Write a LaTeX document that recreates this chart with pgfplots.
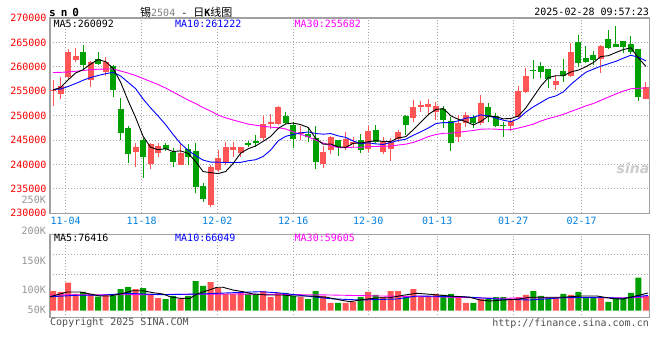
\documentclass[border=0pt]{standalone}
\usepackage{pgfplots}
\pgfplotsset{compat=1.18}
\usepackage{pgfplotstable}
\usepackage{fontspec}
\setmainfont{DejaVu Sans Mono}
\newfontfamily\cjk{Noto Sans CJK SC}
\newfontfamily\sinafont{DejaVu Sans}
\definecolor{cred}{RGB}{255,85,85}
\definecolor{cgreen}{RGB}{0,160,0}
\definecolor{gridc}{RGB}{165,165,165}
\definecolor{framec}{RGB}{160,160,160}
\definecolor{datec}{RGB}{0,128,224}
\definecolor{ma10c}{RGB}{0,0,255}
\definecolor{ma30c}{RGB}{255,0,255}
\definecolor{lblgray}{RGB}{150,150,150}
\definecolor{txtgray}{RGB}{80,80,80}
\newcommand\sz{\fontsize{10bp}{12bp}\selectfont}

% up (red) candles: index open high low close volume(K)
\pgfplotstableread{
i o h l c v
0 255040 257300 251970 255350 84.9
1 254370 257970 253400 256070 80.6
2 257970 263650 257440 263030 120.7
3 261390 263850 260980 262210 72.0
5 257290 261190 255800 260980 72.0
7 258940 262010 258120 260980 67.7
11 242610 244450 239530 243510 93.5
13 240020 244330 239060 244120 72.0
14 242280 244330 241580 243830 54.7
17 239880 244120 239880 242280 50.4
21 231680 239880 231210 239410 123.7
22 238860 242950 238510 241380 99.1
23 240430 244530 239880 243630 72.0
24 242950 244650 241580 243630 72.0
25 242280 243630 241580 243510 80.6
28 245350 249980 245000 248280 84.9
29 248220 250330 247260 248630 59.0
30 248280 251970 248080 251760 76.3
33 246230 247870 245000 246640 59.0
36 240090 243770 239270 242540 63.4
37 242950 245920 242130 245620 33.2
39 243670 246740 242950 245310 33.2
40 244290 245620 243570 244590 37.5
42 243100 247930 242610 246850 80.6
44 242610 245560 242130 244530 59.0
45 243100 245350 240760 244530 84.9
46 245210 247050 244650 246700 84.9
48 249450 253200 248750 251700 93.5
49 251870 253050 250740 252170 63.4
50 251830 253400 250130 252380 63.4
51 250800 252850 249100 251970 72.0
54 245680 250130 244650 248420 59.0
55 248420 250800 247730 250130 33.2
57 248420 254220 248080 252650 50.4
61 247870 249510 246910 248960 50.4
62 249780 256070 249450 255100 59.0
63 254900 259690 254570 258120 67.7
67 256370 258320 255350 257090 54.7
69 258120 264980 257910 263030 67.7
73 261540 264370 258790 264260 59.0
79 253510 256950 253510 255860 63.4
}\upt

% down (green) candles
\pgfplotstableread{
i o h l c v
4 263030 264470 259350 260430 80.6
6 261600 263030 260430 260680 60.3
8 260270 260470 253870 255350 66.4
9 251350 253550 245000 246380 93.5
10 247400 247930 240350 242070 102.1
12 245000 245350 237280 241580 97.8
15 243980 244330 242810 243160 50.4
16 242480 243300 239410 240560 63.4
18 243160 244180 239880 241580 63.4
19 242750 244330 234080 235430 128.0
20 235580 236130 232360 232910 106.5
26 244330 244800 243510 243920 72.0
27 244860 246030 243630 244330 72.0
31 249920 250680 248380 248490 76.3
32 248080 248690 243470 245310 63.4
34 246170 247670 244590 245680 50.4
35 245410 247870 239060 240500 84.9
38 245000 245000 241720 243570 33.2
41 245000 246230 242400 242950 59.0
43 247050 248080 244330 244650 67.7
47 249920 250130 246030 248080 63.4
52 251350 251970 247400 249100 67.7
53 248900 249780 242810 244330 72.0
56 249650 250130 247400 248550 33.2
58 251700 252520 248750 249780 50.4
59 249920 250600 247600 247870 59.0
60 248080 248750 245560 247870 59.0
64 259350 261390 257500 259140 84.9
65 260160 261050 257650 258940 63.4
66 259550 259650 255660 257600 54.7
68 259140 261600 256890 258050 72.0
70 265080 266520 260060 260840 80.6
71 261800 264260 260880 261050 59.0
72 262420 263240 260370 261390 59.0
74 265700 267540 263550 263850 37.5
75 264670 268360 263960 264120 54.7
76 265290 265350 262830 264120 54.7
77 264670 266310 262580 263100 76.3
78 263550 263550 252990 253810 142.2
}\dnt

% price moving averages
\pgfplotstableread{
i m5 m10 m30
0 255250 255350 258830
1 255760 255450 258870
2 257300 255960 258940
3 258730 256580 259080
4 259410 257240 259240
5 260550 257810 259410
6 261480 258220 259510
7 261070 258590 259550
8 259690 258870 259550
9 256870 258140 259140
10 253100 256830 258730
11 249650 255550 258220
12 245780 253420 257600
13 243530 251600 256990
14 243020 249940 256370
15 243240 248160 255660
16 242650 246150 254840
17 242790 244290 254020
18 242280 242910 253200
19 240600 241810 252480
20 238550 240900 251660
21 238320 240490 250940
22 238140 240470 250120
23 238550 240410 249550
24 240190 240390 249100
25 242320 240430 248690
26 243220 240760 248280
27 243790 240970 248040
28 244740 241640 247830
29 245740 242950 247650
30 247380 244840 247520
31 248300 245760 247280
32 248490 246150 246680
33 248160 246460 246150
34 247580 246660 245660
35 245330 246350 244980
36 244140 246210 244390
37 244200 246330 243880
38 243590 245860 243470
39 243510 245540 243450
40 244330 244820 243530
41 244410 244260 243510
42 244650 244430 243670
43 244880 244220 243690
44 244720 244100 243710
45 244700 244510 243770
46 245450 244920 243980
47 245700 245170 244160
48 247110 245990 244510
49 248630 246680 245060
50 250210 247460 245700
51 251250 248360 246130
52 251460 248590 246380
53 249980 248550 246420
54 249240 248940 246560
55 248790 249490 246790
56 248100 249670 246950
57 248810 250150 247220
58 249900 249940 247280
59 249800 249510 247240
60 249350 249060 247110
61 249430 248770 247130
62 249920 249370 247460
63 251580 250740 247830
64 253830 251810 248280
65 256050 252690 248900
66 257790 253610 249410
67 258180 254040 249800
68 258160 254880 250270
69 258940 256390 250860
70 259330 257690 251400
71 260020 258890 252010
72 260880 259530 252480
73 262110 260140 253140
74 262280 260620 253790
75 262930 261130 254450
76 263550 261780 255020
77 263890 262380 255510
78 261800 261950 255600
79 260092 261222 255682
}\mat

% volume moving averages (K)
\pgfplotstableread{
i v
-0.4 60.3
0.93 72.0
1.87 80.6
3.6 80.6
4.93 72.0
6.26 63.4
7.59 63.4
9.33 75.0
10.66 86.2
11.99 86.2
13.32 77.6
14.65 72.0
15.59 60.3
16.92 53.4
18.25 53.4
19.18 72.0
20.52 86.2
21.85 100.9
22.65 100.9
23.98 89.2
25.31 81.9
26.65 72.0
28.51 67.7
30.64 67.7
31.97 63.4
34.24 63.4
36.50 57.8
38.24 46.1
39.57 38.8
40.90 46.1
42.23 51.7
43.57 56.0
44.90 56.0
46.63 66.4
48.49 75.0
50.23 70.7
52.89 63.4
55.56 57.8
56.89 46.1
58.22 41.8
59.95 46.1
61.82 49.1
63.55 57.8
65.28 57.8
67.95 57.8
70.21 63.4
72.48 63.4
74.61 51.7
75.94 50.4
76.87 57.8
78.21 67.7
79.27 76.4
}\vmaf
\pgfplotstableread{
i v
-0.4 60.3
3.2 66.4
6.26 66.4
9.86 75.0
14.26 69.0
19.58 72.0
23.98 77.6
27.58 81.9
29.84 77.6
32.91 66.4
36.90 51.7
40.90 46.1
45.83 50.4
48.49 63.4
54.62 60.3
59.15 50.4
63.55 46.1
67.95 56.0
72.48 57.8
75.94 53.4
79.27 66.0
}\vmat
\pgfplotstableread{
i v
-0.4 67.7
10.66 69.0
23.98 72.0
36.90 67.7
43.57 63.4
50.23 60.3
59.15 53.4
67.95 56.0
76.87 56.0
79.27 59.6
}\vmas

\pgfplotsset{
  kstyle/.style={
    scale only axis, width=599.3bp,
    xmin=-0.4, xmax=79.45,
    axis line style={framec, line width=1.5bp},
    major tick length=0pt, minor tick length=0pt,
    xmajorgrids, ymajorgrids,
    grid style={gridc, line width=1bp, dash pattern=on 1bp off 2bp},
    xtick={1.69,11.82,21.89,32.01,42.0,51.2,61.32,70.44},
    tick label style={font=\sz},
  },
  candle/.style 2 args={draw=none, no markers, forget plot,
    error bars/.cd, y dir=plus, y explicit, error mark=none,
    error bar style={line width=#1, draw=#2}},
}

\begin{document}
\begin{tikzpicture}
\fill[white] (0bp,0bp) rectangle (660bp,360bp);
\path[use as bounding box] (0bp,0bp) rectangle (660bp,360bp);

% ---------- price panel ----------
\begin{axis}[kstyle,
  at={(50bp,146.7bp)}, anchor=south west, height=195.3bp,
  ymin=230000, ymax=270000,
  scaled y ticks=false,
  ytick={230000,235000,240000,245000,250000,255000,260000,265000,270000},
  yticklabels={230000,235000,240000,245000,250000,255000,260000,265000,270000},
  yticklabel style={text=red},
  xticklabels={11-04,11-18,12-02,12-16,12-30,01-13,01-27,02-17},
  xticklabel style={text=datec},
]
% wicks
\addplot[candle={1bp}{cred}]
  table[x=i, y=l, y error plus expr=\thisrow{h}-\thisrow{l}] {\upt};
\addplot[candle={1bp}{cgreen}]
  table[x=i, y=l, y error plus expr=\thisrow{h}-\thisrow{l}] {\dnt};
% bodies
\addplot[candle={6bp}{cred}]
  table[x=i, y=o, y error plus expr=\thisrow{c}-\thisrow{o}] {\upt};
\addplot[candle={6bp}{cgreen}]
  table[x=i, y=c, y error plus expr=\thisrow{o}-\thisrow{c}] {\dnt};
% moving averages
\addplot[ma30c, line width=0.9bp, mark=none] table[x=i, y=m30] {\mat};
\addplot[ma10c, line width=0.9bp, mark=none] table[x=i, y=m10] {\mat};
\addplot[black, line width=0.9bp, mark=none] table[x=i, y=m5] {\mat};
\end{axis}

% ---------- volume panel ----------
\begin{axis}[kstyle,
  at={(50bp,42.3bp)}, anchor=south west, height=83.4bp,
  ymin=-30.17, ymax=329.3,
  ytick={153.9,240.1}, yticklabels={},
  xticklabels={},
]
\addplot[ybar, bar width=6bp, bar shift=0pt, fill=cred, draw=none] table[x=i, y=v] {\upt};
\addplot[ybar, bar width=6bp, bar shift=0pt, fill=cgreen, draw=none] table[x=i, y=v] {\dnt};
\addplot[ma30c, line width=0.9bp, mark=none] table[x=i, y=v] {\vmas};
\addplot[ma10c, line width=0.9bp, mark=none] table[x=i, y=v] {\vmat};
\addplot[black, line width=0.9bp, mark=none] table[x=i, y=v] {\vmaf};
\end{axis}

% ---------- texts ----------
\node[anchor=west, inner sep=0, font=\fontsize{11bp}{12bp}\selectfont\bfseries] at (49bp,348bp) {s\kern5bp n\kern5bp 0};
\node[anchor=west, inner sep=0, font=\sz] at (140bp,348bp)
  {{\cjk\fontsize{11bp}{12bp}\selectfont 锡}{\color{gray}2504} - {\cjk\fontsize{11bp}{12bp}\selectfont 日}\textbf{K}{\cjk\fontsize{11bp}{12bp}\selectfont 线图}};
\node[anchor=east, inner sep=0, font=\sz] at (649bp,348bp) {2025-02-28 09:57:23};

\node[anchor=west, inner sep=0, font=\sz] at (53.5bp,336bp) {MA5:260092};
\node[anchor=west, inner sep=0, font=\sz, text=ma10c] at (175bp,336bp) {MA10:261222};
\node[anchor=west, inner sep=0, font=\sz, text=ma30c] at (294.5bp,336bp) {MA30:255682};

\node[anchor=west, inner sep=0, font=\sz] at (54bp,121.7bp) {MA5:76416};
\node[anchor=west, inner sep=0, font=\sz, text=ma10c] at (175bp,121.7bp) {MA10:66049};
\node[anchor=west, inner sep=0, font=\sz, text=ma30c] at (294.5bp,121.7bp) {MA30:59605};

\node[anchor=east, inner sep=0, font=\sz, text=lblgray] at (46bp,160bp) {250K};
\node[anchor=east, inner sep=0, font=\sz, text=lblgray] at (46bp,129bp) {200K};
\node[anchor=east, inner sep=0, font=\sz, text=lblgray] at (46bp,99.3bp) {150K};
\node[anchor=east, inner sep=0, font=\sz, text=lblgray] at (46bp,69.7bp) {100K};
\node[anchor=east, inner sep=0, font=\sz, text=lblgray] at (46bp,50bp) {50K};

\node[anchor=west, inner sep=0, font=\sz, text=txtgray] at (50bp,37bp) {Copyright 2025 SINA.COM};
\node[anchor=east, inner sep=0, font=\sz, text=txtgray] at (649bp,36bp) {http://finance.sina.com.cn};

\node[inner sep=0, text=gray!40, font=\sinafont\fontsize{14bp}{14bp}\selectfont\bfseries\itshape] at (633bp,192bp) {sina};
\end{tikzpicture}
\end{document}
